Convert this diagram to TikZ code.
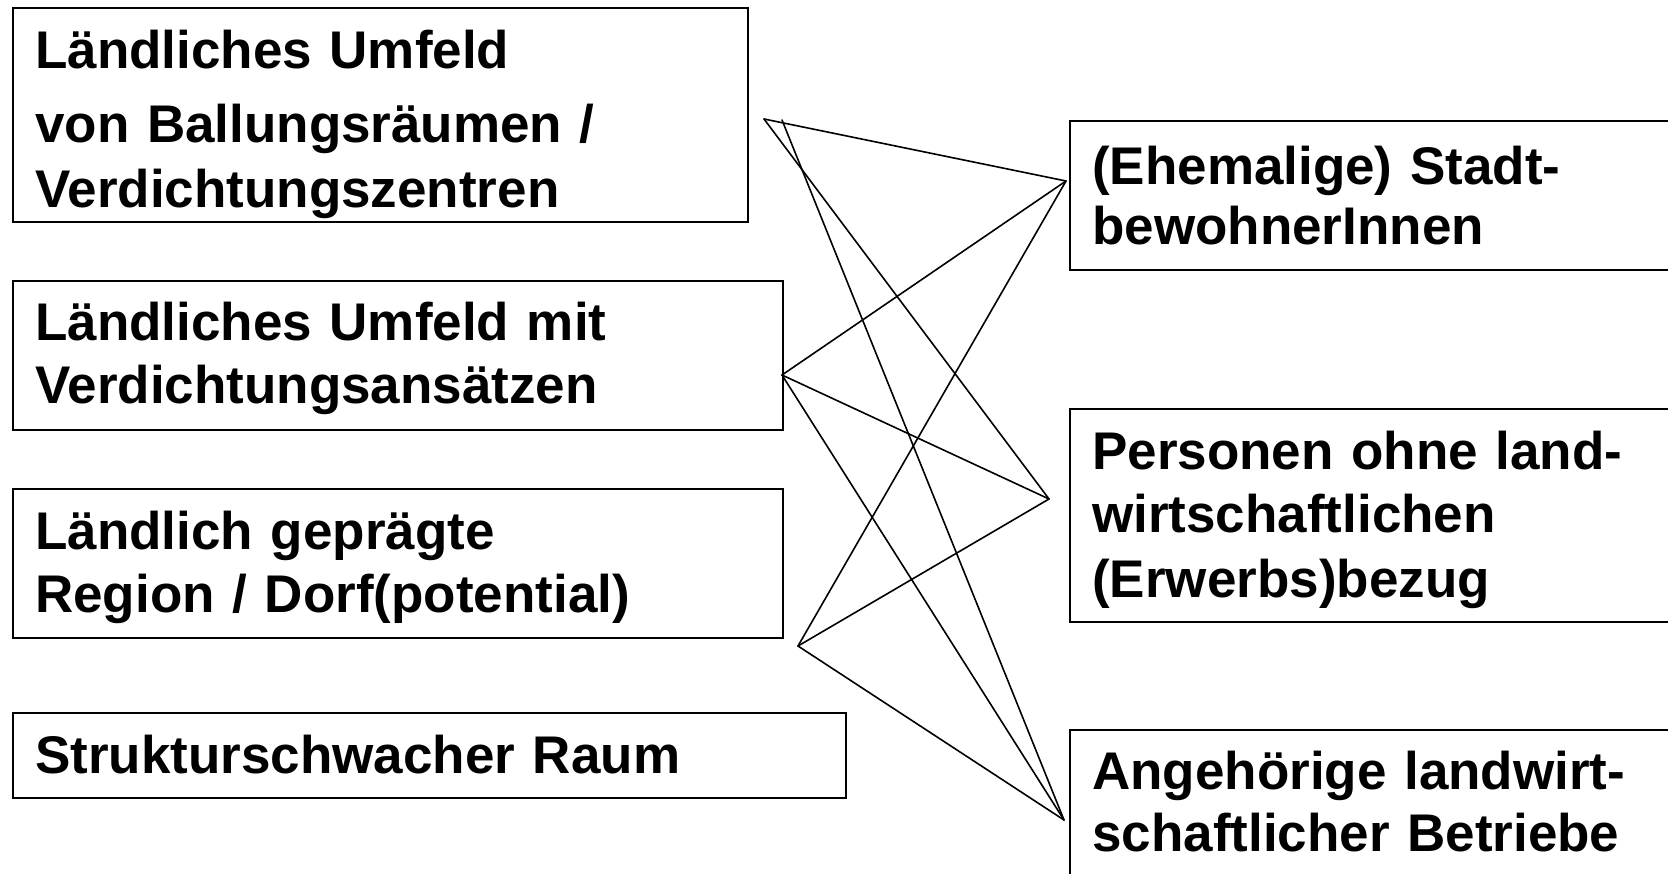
\documentclass[tikz,border=0pt]{standalone}
\usepackage{fontspec}
\setmainfont{Liberation Sans}
\begin{document}
\begin{tikzpicture}[x=1pt,y=-1pt,
  box/.style={draw=black, line width=2pt, anchor=north west, inner sep=0pt},
  lbl/.style={anchor=base west, inner sep=0pt, text width=720pt, align=left,
    font=\bfseries\fontsize{53}{63}\selectfont},
  link/.style={line width=1.6pt, line cap=round}]
\useasboundingbox (0,0) rectangle (1668,874);
\clip (0,0) rectangle (1668,874);
\fill[white] (0,0) rectangle (1668,874);
% left boxes
\node[box, minimum width=734.5pt, minimum height=213.5pt] (b1) at (12,7.3) {};
\node[lbl] (t1) at (35,69) {Ländliches Umfeld\\[11pt]von Ballungsräumen /\\[2pt]Verdichtungszentren};
\node[box, minimum width=769.5pt, minimum height=148.5pt] (b2) at (12,280) {};
\node[lbl] (t2) at (35,341) {Ländliches Umfeld mit\\Verdichtungsansätzen};
\node[box, minimum width=769.5pt, minimum height=149pt] (b3) at (12,488) {};
\node[lbl] (t3) at (35,549) {Ländlich geprägte\\Region / Dorf(potential)};
\node[box, minimum width=833pt, minimum height=85pt] (b4) at (12,712) {};
\node[lbl] (t4) at (35,773) {Strukturschwacher Raum};
% right boxes
\node[box, minimum width=640pt, minimum height=149pt] (c1) at (1069,120) {};
\node[lbl] (u1) at (1092,185) {(Ehemalige) Stadt-\\[-3pt]bewohnerInnen};
\node[box, minimum width=640pt, minimum height=212.5pt] (c2) at (1069,408) {};
\node[lbl] (u2) at (1092,469) {Personen ohne land-\\wirtschaftlichen\\[2pt](Erwerbs)bezug};
\node[box, minimum width=640pt, minimum height=180pt] (c3) at (1069,728.5) {};
\node[lbl] (u3) at (1092,789) {Angehörige landwirt-\\[-1pt]schaftlicher Betriebe};
% connector end points
\coordinate (pa) at (764,119);
\coordinate (pa2) at (782,120);
\coordinate (pb) at (782,375);
\coordinate (pc) at (798,646);
\coordinate (qs) at (1066,181);
\coordinate (qp) at (1049,499);
\coordinate (qa) at (1064,820);
% connectors
\draw[link] (pa) -- (qs);
\draw[link] (pa) -- (qp);
\draw[link] (pa2) -- (qa);
\draw[link] (pb) -- (qs);
\draw[link] (pb) -- (qp);
\draw[link] (pb) -- (qa);
\draw[link] (pc) -- (qs);
\draw[link] (pc) -- (qp);
\draw[link] (pc) -- (qa);
\end{tikzpicture}
\end{document}
